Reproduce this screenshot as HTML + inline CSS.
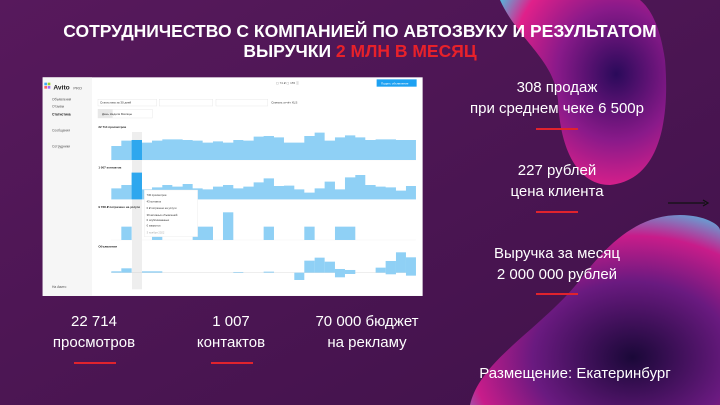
<!DOCTYPE html><html><head><meta charset="utf-8"><style>
body{margin:0;width:720px;height:405px;overflow:hidden;background:#4a1550;font-family:"Liberation Sans","DejaVu Sans",sans-serif;position:relative}
.t{position:absolute;color:#fff;text-align:center;white-space:nowrap}
.h{font-weight:bold;font-size:17.5px;line-height:20px;left:0;width:720px;top:21px}
.s{font-size:15px;line-height:20px}
.r{position:absolute;height:2px;background:#e0232d;width:42px}
</style></head><body>
<svg width="720" height="405" style="position:absolute;left:0;top:0">
<defs>
<radialGradient id="g1" cx="0.7" cy="0.4" r="0.8"><stop offset="0" stop-color="#2a0a5a"/><stop offset="0.45" stop-color="#8a1a8a"/><stop offset="0.8" stop-color="#e0208a"/><stop offset="1" stop-color="#5ab0d8"/></radialGradient>
<radialGradient id="g2" cx="0.65" cy="0.75" r="0.8"><stop offset="0" stop-color="#1a0838"/><stop offset="0.5" stop-color="#6a1a80"/><stop offset="0.8" stop-color="#c81c8a"/><stop offset="1" stop-color="#60a8d8"/></radialGradient>
<linearGradient id="bg" x1="0" y1="0" x2="1" y2="1"><stop offset="0" stop-color="#57195c"/><stop offset="1" stop-color="#40124a"/></linearGradient>
</defs>
<rect width="720" height="405" fill="url(#bg)"/>
<path d="M500,0 C518,40 555,60 558,100 C560,150 578,185 610,185 C660,180 670,120 665,60 C660,25 650,8 640,0 Z" fill="url(#g1)"/>
<path d="M470,405 C480,360 540,330 580,280 C610,240 640,215 680,215 C705,215 720,225 720,230 L720,405 Z" fill="url(#g2)"/>
<line x1="668" y1="203" x2="705" y2="203" stroke="#111" stroke-width="1.3"/><path d="M703,200 L708,203 L703,206" fill="none" stroke="#111" stroke-width="1.3"/>
<g transform="translate(36,70) scale(0.3333)">
<rect x="20" y="22" width="1140" height="656" fill="#fff"/>
<rect x="20" y="22" width="148" height="656" fill="#f6f6f6"/>
<rect x="25" y="38" width="8" height="8" fill="#3fa9f5"/><rect x="35" y="38" width="8" height="8" fill="#97cf26"/><rect x="25" y="48" width="8" height="8" fill="#ff6163"/><rect x="35" y="48" width="8" height="8" fill="#a169f7"/>
<text x="52" y="58" font-size="20" font-weight="bold" fill="#222">Avito</text><text x="112" y="58" font-size="12" fill="#555">PRO</text>
<g font-size="10" fill="#555"><text x="48" y="92">Объявления</text><text x="48" y="112">Отзывы</text><text x="48" y="136" font-weight="bold" fill="#222">Статистика</text><text x="48" y="184">Сообщения</text><text x="48" y="232">Сотрудники</text><text x="48" y="654">На Авито</text></g>
<rect x="1022" y="28" width="120" height="22" fill="#1da1f2"/><text x="1035" y="43" font-size="9" fill="#fff">Подать объявление</text>
<text x="720" y="42" font-size="9" fill="#555">▢ 74 ₽   ▢ 155   ⓘ</text>
<rect x="186" y="88" width="176" height="20" fill="none" stroke="#ddd"/><text x="192" y="101" font-size="9" fill="#333">Статистика за 30 дней</text>
<rect x="370" y="88" width="160" height="20" fill="none" stroke="#ddd"/><rect x="540" y="88" width="155" height="20" fill="none" stroke="#ddd"/>
<text x="706" y="101" font-size="9" fill="#333">Скачать отчёт XLS</text>
<rect x="186" y="118" width="163" height="26" fill="none" stroke="#ddd"/><rect x="186" y="118" width="44" height="26" fill="#e8e8e8"/>
<text x="198" y="135" font-size="9" fill="#333">День   Неделя   Месяцы</text>
<rect x="288" y="186" width="30" height="472" fill="#eeeeee"/>
<g font-size="9" font-weight="bold" fill="#222"><text x="187" y="174">22 714 просмотров</text><text x="187" y="295">1 007 контактов</text><text x="187" y="414">9 768 ₽ потрачено на услуги</text><text x="187" y="533">Объявления</text></g>
<line x1="225" y1="608" x2="1140" y2="608" stroke="#ccc"/>
<g stroke="#eee"><line x1="225" y1="510" x2="1140" y2="510"/><line x1="225" y1="388" x2="1140" y2="388"/><line x1="225" y1="270" x2="1140" y2="270"/></g>
<g fill="#8fd0f5">
<path d="M226,270V228H256V212H287V210H318V218H348V212H379V208H440V210H470V212H500V218H531V214H561V218H592V210H622V212H653V200H683V198H714V202H744V218H805V198H836V188H866V212H897V202H927V196H958V202H988V210H1019V208H1080V210H1140V270Z"/>
<path d="M226,388V355H256V345H287V308H318V358H348V352H379V345H409V350H440V342H470V355H500V358H531V350H561V345H592V355H622V350H653V337H683V325H714V348H744V347H775V358H805V368H836V355H866V335H897V358H927V322H958V315H988V345H1019V350H1049V352H1080V362H1110V348H1140V388Z"/>
<rect x="256" y="470" width="31" height="40"/><rect x="348" y="500" width="31" height="10"/><rect x="470" y="470" width="61" height="40"/><rect x="561" y="427" width="31" height="83"/><rect x="683" y="470" width="31" height="40"/><rect x="805" y="470" width="31" height="40"/><rect x="897" y="470" width="61" height="40"/>
<rect x="226" y="604" width="30" height="4"/><rect x="256" y="595" width="31" height="13"/><rect x="318" y="604" width="61" height="4"/><rect x="592" y="606" width="30" height="2"/><rect x="683" y="605" width="31" height="3"/><rect x="775" y="608" width="30" height="22"/><rect x="805" y="572" width="31" height="36"/><rect x="836" y="563" width="30" height="45"/><rect x="866" y="575" width="31" height="33"/><rect x="897" y="597" width="30" height="25"/><rect x="927" y="600" width="31" height="12"/><rect x="1019" y="593" width="30" height="15"/><rect x="1049" y="573" width="31" height="40"/><rect x="1080" y="547" width="30" height="61"/><rect x="1110" y="562" width="30" height="55"/>
</g>
<rect x="287" y="210" width="31" height="60" fill="#2ea7ee"/><rect x="287" y="308" width="31" height="80" fill="#2ea7ee"/>
<rect x="325" y="360" width="160" height="140" fill="#fff" stroke="#e5e5e5"/>
<g font-size="8" fill="#333"><text x="332" y="378">730 просмотров</text><text x="332" y="398">43 контакта</text><text x="332" y="417">0 ₽ потрачено на услуги</text><text x="332" y="438">39 активных объявлений</text><text x="332" y="453">0 опубликованных</text><text x="332" y="469">0 закрытых</text><text x="332" y="490" fill="#aaa">3 ноября 2022</text></g>
</g>
</svg>
<div class="t h">СОТРУДНИЧЕСТВО С КОМПАНИЕЙ ПО АВТОЗВУКУ И РЕЗУЛЬТАТОМ<br>ВЫРУЧКИ <span style="color:#e8212a">2 МЛН В МЕСЯЦ</span></div>
<div class="t s" style="left:457px;width:200px;top:77px;line-height:21px">308 продаж<br>при среднем чеке 6 500р</div><div class="r" style="left:536px;top:128px"></div>
<div class="t s" style="left:457px;width:200px;top:160px;line-height:21px">227 рублей<br>цена клиента</div><div class="r" style="left:536px;top:211px"></div>
<div class="t s" style="left:457px;width:200px;top:243px;line-height:21px">Выручка за месяц<br>2 000 000 рублей</div><div class="r" style="left:536px;top:293px"></div>
<div class="t s" style="left:470px;width:210px;top:364px">Размещение: Екатеринбург</div>
<div class="t s" style="left:24px;width:140px;top:311px;line-height:21px">22 714<br>просмотров</div><div class="r" style="left:74px;top:362px"></div>
<div class="t s" style="left:161px;width:140px;top:311px;line-height:21px">1 007<br>контактов</div><div class="r" style="left:211px;top:362px"></div>
<div class="t s" style="left:297px;width:140px;top:311px;line-height:21px">70 000 бюджет<br>на рекламу</div>
</body></html>
